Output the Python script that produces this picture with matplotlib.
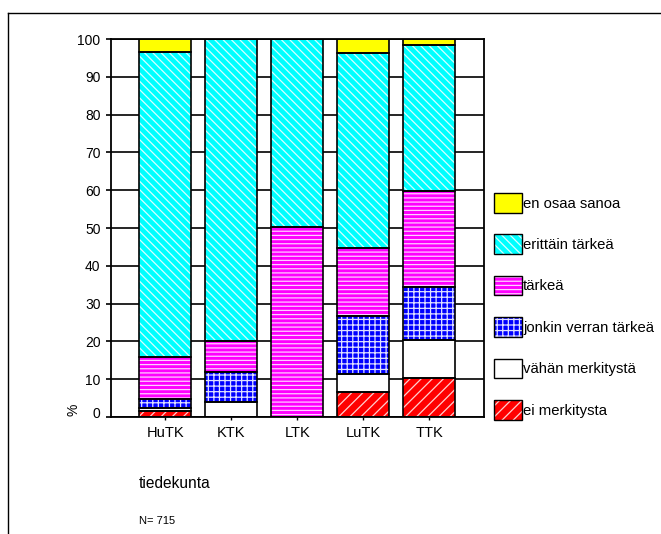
import numpy as np
import matplotlib
matplotlib.use("Agg")
import matplotlib.pyplot as plt
import matplotlib.transforms as mtransforms
from matplotlib.patches import Patch
from matplotlib.lines import Line2D
from matplotlib.legend_handler import HandlerTuple

plt.rcParams['font.family'] = ['Liberation Sans', 'DejaVu Sans']
plt.rcParams['hatch.linewidth'] = 0.9

# Data (percent)
faculties = ['HuTK', 'KTK', 'LTK', 'LuTK', 'TTK']
ei_merkitysta = [1.5, 0.0, 0.0, 6.7, 10.3]
vahan_merkitysta = [0.8, 3.9, 0.0, 4.7, 10.1]
jonkin_verran = [2.4, 7.9, 0.0, 15.4, 14.1]
tarkea = [11.2, 8.2, 50.2, 17.9, 25.2]
erittain_tarkea = [80.6, 80.0, 49.8, 51.6, 38.8]
en_osaa_sanoa = [3.5, 0.0, 0.0, 3.7, 1.5]

series = [
    ('ei merkitysta', ei_merkitysta),
    ('vähän merkitystä', vahan_merkitysta),
    ('jonkin verran tärkeä', jonkin_verran),
    ('tärkeä', tarkea),
    ('erittäin tärkeä', erittain_tarkea),
    ('en osaa sanoa', en_osaa_sanoa),
]
# fill colour, hatch, hatch colour
styles = [
    ('#ff0000', '///', '#ffd0d0'),
    ('#ffffff', '', '#ffffff'),
    ('#0000ff', '+++', '#e0e0ff'),
    ('#ff00ff', '----', '#ffd0ff'),
    ('#00ffff', '\\\\\\\\', '#d8ffff'),
    ('#ffff00', '', '#ffff00'),
]

W, H = 661, 534
fig = plt.figure(figsize=(W / 100, H / 100), dpi=100)
ax = fig.add_axes([111 / W, (H - 417) / H, 373 / W, 378 / H])

x = np.arange(len(faculties))
bottom = np.zeros(len(faculties))
handles = []
for (label, vals), (fc, hatch, hc) in zip(series, styles):
    vals = np.array(vals)
    # filled + light hatch layer, then black outline on top
    ax.bar(x, vals, 0.79, bottom=bottom, color=fc, hatch=hatch,
           edgecolor=hc, linewidth=0, zorder=2)
    ax.bar(x, vals, 0.79, bottom=bottom, fill=False,
           edgecolor='black', linewidth=1.2, zorder=3)
    bottom += vals
    handles.append((Patch(facecolor=fc, hatch=hatch, edgecolor=hc, linewidth=0),
                    Patch(fill=False, edgecolor='black', linewidth=1.0)))

ax.set_xlim(-0.82, 4.83)
ax.set_ylim(0, 100)
ax.set_yticks(np.arange(0, 101, 10))
ax.set_xticks(x)
ax.set_xticklabels(faculties)
ax.tick_params(axis='y', direction='out', length=3.6, width=1.2, pad=4, labelsize=10)
ax.tick_params(axis='x', direction='out', length=2.5, width=1.0, pad=4, labelsize=10.5)
ax.yaxis.grid(True, color='black', linewidth=1.2)
ax.set_axisbelow(True)
for s in ax.spines.values():
    s.set_linewidth(1.3)
    s.set_color('black')

# the "0" label sits a little above its tick in the original
zero_lab = ax.yaxis.get_major_ticks()[0].label1
zero_lab.set_transform(zero_lab.get_transform() +
                       mtransforms.ScaledTranslation(0, 5 / 100, fig.dpi_scale_trans))

# legend, top to bottom
labels = [s[0] for s in series][::-1]
leg = ax.legend(handles[::-1], labels, handler_map={tuple: HandlerTuple(ndivide=1, pad=0)},
                loc='upper left', bbox_to_anchor=(494 / W, 1 - 193 / H),
                bbox_transform=fig.transFigure, frameon=False, fontsize=10.7,
                borderpad=0, borderaxespad=0, handlelength=1.9, handleheight=1.65,
                handletextpad=0.06, labelspacing=1.47)

fig.text(74 / W, 1 - 410 / H, '%', rotation=90, ha='center', va='center', fontsize=10)
fig.text(139 / W, 1 - 484 / H, 'tiedekunta', ha='left', va='center', fontsize=11.2)
fig.text(139 / W, 1 - 521 / H, 'N= 715', ha='left', va='center', fontsize=8)

# outer frame lines
fig.add_artist(Line2D([7.5 / W, 7.5 / W], [0, 1 - 12.5 / H], color='black', linewidth=1.0))
fig.add_artist(Line2D([7.5 / W, 1], [1 - 12.5 / H, 1 - 12.5 / H], color='black', linewidth=1.0))

fig.savefig('out.png', dpi=100)
